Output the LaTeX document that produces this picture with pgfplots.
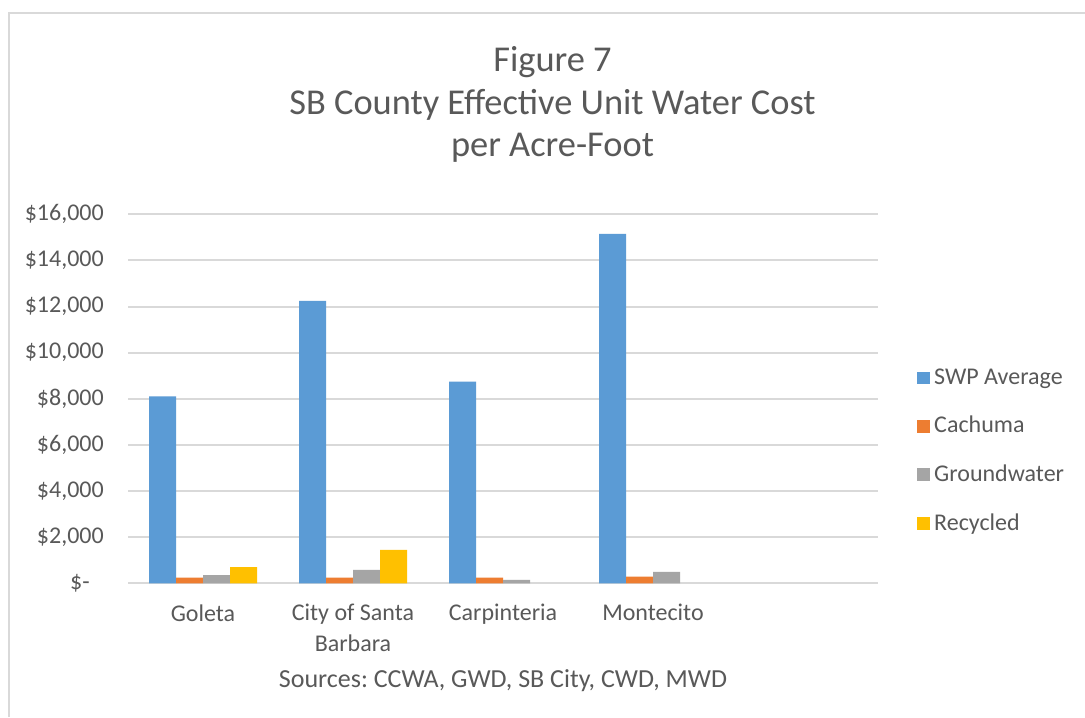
\documentclass[border=0pt]{standalone}
\usepackage{fontspec}
\setmainfont{Carlito}
\usepackage{pgfplots}
\pgfplotsset{compat=1.18}
\definecolor{swpblue}{HTML}{5B9BD5}
\definecolor{cachorange}{HTML}{ED7D31}
\definecolor{gwgray}{HTML}{A5A5A5}
\definecolor{recyellow}{HTML}{FFC000}
\definecolor{txtgray}{HTML}{595959}
\definecolor{gridgray}{HTML}{D9D9D9}
\frenchspacing

\begin{document}
\begin{tikzpicture}
% page = 1085 x 717 px at 0.5pt per px
\useasboundingbox (0,0) rectangle (542.5pt,358.5pt);
\fill[white] (0,0) rectangle (542.5pt,358.5pt);
\draw[gridgray, line width=1pt] (4.25pt,0) -- (4.25pt,352pt) -- (542.5pt,352pt);

\node[align=center, text=txtgray, font=\fontsize{18.2}{21.25}\selectfont]
  at (276.25pt,306.25pt) {Figure 7\\SB County Effective Unit Water Cost\\per Acre-Foot};

\begin{axis}[
    at={(64pt,66.85pt)}, anchor=south west,
    scale only axis,
    width=375pt, height=184.5pt,
    xmin=-0.5, xmax=4.5,
    ymin=0, ymax=16000,
    ytick={0,2000,4000,6000,8000,10000,12000,14000,16000},
    yticklabels={{\$-\kern7pt},{\$2,000},{\$4,000},{\$6,000},{\$8,000},{\$10,000},{\$12,000},{\$14,000},{\$16,000}},
    xtick={0,1,2,3},
    xticklabels={Goleta,{City of Santa\\Barbara},Carpinteria,Montecito},
    scaled y ticks=false,
    axis line style={draw=none},
    major tick length=0pt,
    tick style={draw=none},
    ymajorgrids=true,
    major grid style={draw=gridgray, line width=1pt},
    ticklabel style={text=txtgray, font=\fontsize{12}{15.5}\selectfont},
    yticklabel style={anchor=east, xshift=-8.6pt},
    xticklabel style={anchor=north, align=center, yshift=-7pt},
    xlabel={Sources: CCWA, GWD, SB City, CWD, MWD},
    xlabel style={at={(axis description cs:0.5,-0.2648)}, anchor=center, text=txtgray, font=\fontsize{13}{15.5}\selectfont},
    ybar, bar width=0.18,
    legend style={at={(axis description cs:1,0.3585)}, anchor=west, xshift=19.5pt,
        draw=none, fill=none, inner sep=0pt, row sep=10.5pt,
        font=\fontsize{12}{14}\selectfont, text=txtgray},
    legend cell align=left,
    legend image code/.code={\fill[#1] (0pt,-3.2pt) rectangle (6.4pt,3.2pt);},
]
\addplot[fill=swpblue, draw=none, bar shift=-0.27]
    coordinates {(0,8100) (1,12250) (2,8750) (3,15150)};
\addplot[fill=cachorange, draw=none, bar shift=-0.09]
    coordinates {(0,250) (1,250) (2,250) (3,290)};
\addplot[fill=gwgray, draw=none, bar shift=0.09]
    coordinates {(0,350) (1,580) (2,150) (3,500)};
\addplot[fill=recyellow, draw=none, bar shift=0.27]
    coordinates {(0,700) (1,1450)};
\legend{SWP Average,Cachuma,Groundwater,Recycled}
\end{axis}
\end{tikzpicture}
\end{document}
